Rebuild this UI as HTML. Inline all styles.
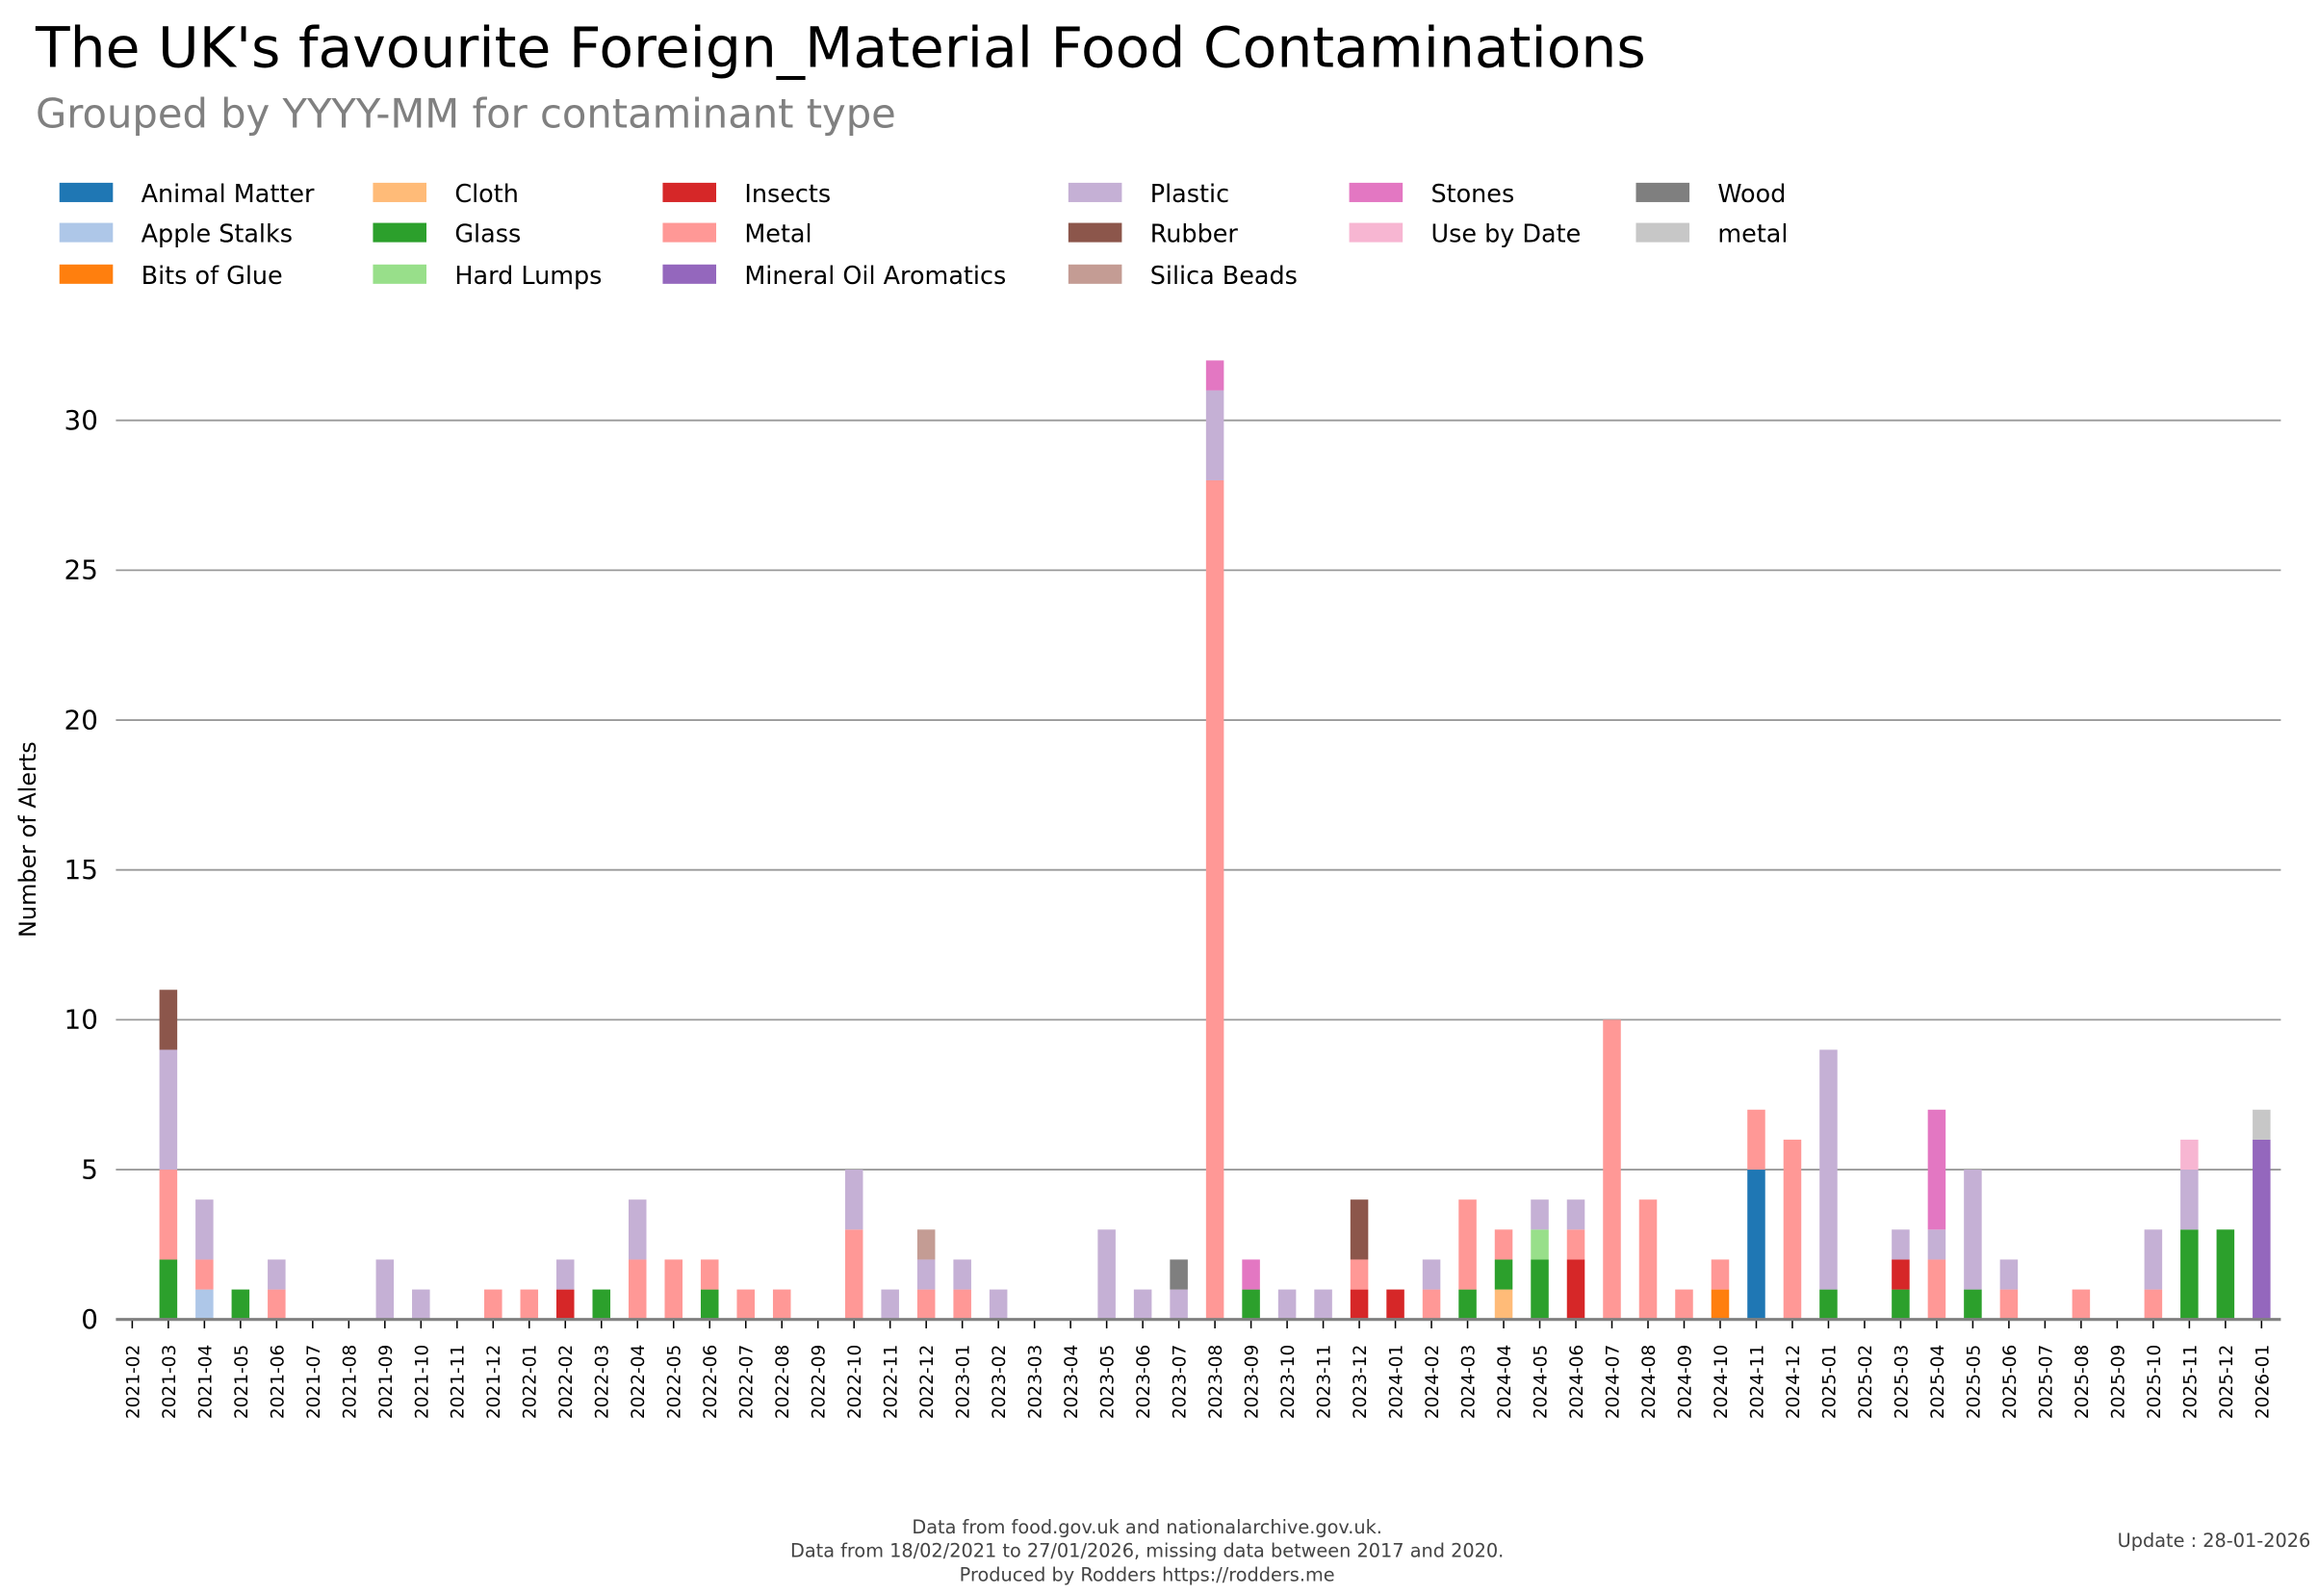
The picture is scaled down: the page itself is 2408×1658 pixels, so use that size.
<!DOCTYPE html>
<html><head><meta charset="utf-8"><style>
html,body{margin:0;padding:0;background:#fff;}
svg{display:block;font-family:"DejaVu Sans","Liberation Sans",sans-serif;}
</style></head><body>
<svg id="s" width="2408" height="1658" viewBox="0 0 1560 1074.1" xmlns="http://www.w3.org/2000/svg">
<rect width="1560" height="1075" fill="#fff"/>
<text x="24" y="45" font-size="37.8" fill="#000">The UK's favourite Foreign_Material Food Contaminations</text>
<text x="24" y="86" font-size="27" fill="#808080">Grouped by YYYY-MM for contaminant type</text>
<g id="leg" font-size="16.5" fill="#000"></g>
<g id="grid"></g>
<g id="bars"></g>
<g id="xl" font-size="12" fill="#000"></g>
<text transform="translate(24,565) rotate(-90)" text-anchor="middle" font-size="15.5">Number of Alerts</text>
<g font-size="12.5" fill="#444" text-anchor="middle">
<text x="772" y="1032">Data from food.gov.uk and nationalarchive.gov.uk.</text>
<text x="772" y="1048">Data from 18/02/2021 to 27/01/2026, missing data between 2017 and 2020.</text>
<text x="772" y="1064">Produced by Rodders https://rodders.me</text>
</g>
<text x="1555" y="1041" font-size="12.5" fill="#444" text-anchor="end">Update : 28-01-2026</text>
</svg>
<script>
var NS="http://www.w3.org/2000/svg";
function el(p,t,a,txt){var e=document.createElementNS(NS,t);for(var k in a)e.setAttribute(k,a[k]);if(txt!=null)e.textContent=txt;p.appendChild(e);return e;}
var C={B:"#1f77b4",A:"#aec7e8",O:"#ff7f0e",C:"#ffbb78",G:"#2ca02c",H:"#98df8a",I:"#d62728",M:"#ff9896",V:"#9467bd",P:"#c5b0d5",R:"#8c564b",S:"#c49c94",St:"#e377c2",U:"#f7b6d2",W:"#7f7f7f",L:"#c7c7c7"};
var leg=[[0,0,"B","Animal Matter"],[0,1,"A","Apple Stalks"],[0,2,"O","Bits of Glue"],[1,0,"C","Cloth"],[1,1,"G","Glass"],[1,2,"H","Hard Lumps"],[2,0,"I","Insects"],[2,1,"M","Metal"],[2,2,"V","Mineral Oil Aromatics"],[3,0,"P","Plastic"],[3,1,"R","Rubber"],[3,2,"S","Silica Beads"],[4,0,"St","Stones"],[4,1,"U","Use by Date"],[5,0,"W","Wood"],[5,1,"L","metal"]];
var cx=[40,251,446,719,908,1101];var ry=[130,157,185];
var lg=document.getElementById("leg");
leg.forEach(function(l){var c=l[0],r=l[1];el(lg,"rect",{x:cx[c],y:ry[r]-7,width:36,height:13,fill:C[l[2]]});el(lg,"text",{x:cx[c]+55,y:ry[r]+6},l[3]);});
var y0=888,u=20.17;
var g=document.getElementById("grid");
for(var v=5;v<=30;v+=5){el(g,"line",{x1:78,x2:1535,y1:y0-v*u,y2:y0-v*u,stroke:"#999","stroke-width":1.2});}
for(var v=0;v<=30;v+=5){el(g,"text",{x:66,y:y0-v*u+6,"text-anchor":"end","font-size":18},String(v));}
var D=[[],[["G",2],["M",3],["P",4],["R",2]],[["A",1],["M",1],["P",2]],[["G",1]],[["M",1],["P",1]],[],[],[["P",2]],[["P",1]],[],[["M",1]],[["M",1]],[["I",1],["P",1]],[["G",1]],[["M",2],["P",2]],[["M",2]],[["G",1],["M",1]],[["M",1]],[["M",1]],[],[["M",3],["P",2]],[["P",1]],[["M",1],["P",1],["S",1]],[["M",1],["P",1]],[["P",1]],[],[],[["P",3]],[["P",1]],[["P",1],["W",1]],[["M",28],["P",3],["St",1]],[["G",1],["St",1]],[["P",1]],[["P",1]],[["I",1],["M",1],["R",2]],[["I",1]],[["M",1],["P",1]],[["G",1],["M",3]],[["C",1],["G",1],["M",1]],[["G",2],["H",1],["P",1]],[["I",2],["M",1],["P",1]],[["M",10]],[["M",4]],[["M",1]],[["O",1],["M",1]],[["B",5],["M",2]],[["M",6]],[["G",1],["P",8]],[],[["G",1],["I",1],["P",1]],[["M",2],["P",1],["St",4]],[["G",1],["P",4]],[["M",1],["P",1]],[],[["M",1]],[],[["M",1],["P",2]],[["G",3],["P",2],["U",1]],[["G",3]],[["V",6],["L",1]]];
var b=document.getElementById("bars"),xl=document.getElementById("xl");
var x0=89,dx=(1522-89)/59;
for(var i=0;i<60;i++){var x=x0+i*dx,h=0;
 D[i].forEach(function(s){el(b,"rect",{x:x-6,y:y0-(h+s[1])*u,width:12,height:s[1]*u,fill:C[s[0]]});h+=s[1];});
 el(b,"line",{x1:x,x2:x,y1:y0,y2:y0+6,stroke:"#000","stroke-width":1});
 var yr=2021+Math.floor((i+1)/12),mo=(i+1)%12+1;var lab=yr+"-"+(mo<10?"0":"")+mo;
 el(xl,"text",{transform:"translate("+(x+4.5)+",955) rotate(-90)"},lab);
}
el(b,"line",{x1:78,x2:1535,y1:y0,y2:y0,stroke:"#808080","stroke-width":2});
</script>
</body></html>
